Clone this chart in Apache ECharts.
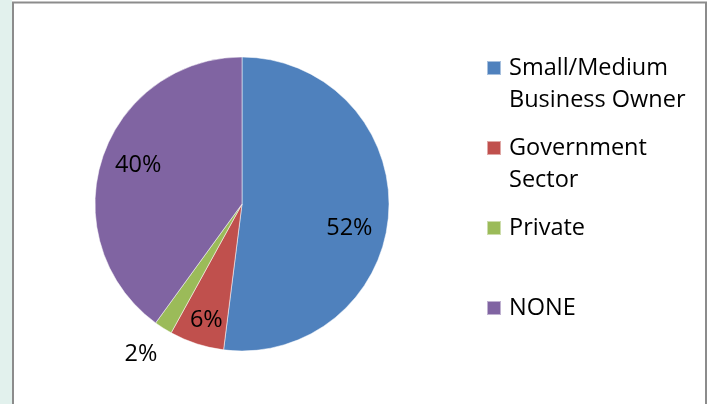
<!DOCTYPE html>
<html>
<head>
<meta charset="utf-8">
<script src="https://cdn.jsdelivr.net/npm/echarts@6/dist/echarts.min.js"></script>
<style>
html,body{margin:0;padding:0;background:#fff;}
#chart{width:712px;height:404px;}
</style>
</head>
<body>
<div id="chart"></div>
<script>
const categories = ['Small/Medium\nBusiness Owner', 'Government\nSector', 'Private', 'NONE'];
const values = [52, 6, 2, 40];
const colors = ['#4f81bd', '#c0504d', '#9bbb59', '#8064a2'];

const labelOffsets = [[31, 20], [-12, 44], [-60, 86], [-31, -15]];

const chart = echarts.init(document.getElementById('chart'), null, {renderer: 'canvas'});

const data = categories.map((c, i) => ({
  name: c,
  value: values[i],
  itemStyle: {color: colors[i]},
  label: {offset: labelOffsets[i]}
}));

chart.setOption({
  animation: false,
  backgroundColor: '#ffffff',
  graphic: [
    {type: 'rect', shape: {x: 0, y: 0, width: 12, height: 404}, style: {fill: '#e2f1ed'}, z: -10},
    {type: 'rect', shape: {x: 13, y: 2.5, width: 693, height: 420}, style: {fill: 'none', stroke: '#8c8c8c', lineWidth: 2}, z: 10}
  ],
  legend: {
    orient: 'vertical',
    left: 486,
    top: 20,
    padding: 0,
    itemWidth: 14,
    itemHeight: 14,
    itemGap: -16,
    icon: 'rect',
    selectedMode: false,
    formatter: function (name) {
      const lines = name.split('\n');
      return '\n' + name + (lines.length === 1 ? '\n ' : '');
    },
    textStyle: {
      fontFamily: 'Open Sans',
      fontSize: 23.5,
      lineHeight: 32,
      color: '#000',
      padding: [0, 0, 0, 3]
    },
    data: categories
  },
  series: [{
    type: 'pie',
    center: [242, 204],
    radius: [0, 147],
    startAngle: 90,
    clockwise: true,
    avoidLabelOverlap: false,
    label: {
      show: true,
      position: 'inside',
      formatter: '{c}%',
      fontFamily: 'Open Sans',
      fontSize: 23.5,
      color: '#000'
    },
    labelLine: {show: false},
    itemStyle: {borderColor: 'rgba(255,255,255,0.5)', borderWidth: 1},
    emphasis: {disabled: true},
    data: data
  }]
});
</script>
</body>
</html>
